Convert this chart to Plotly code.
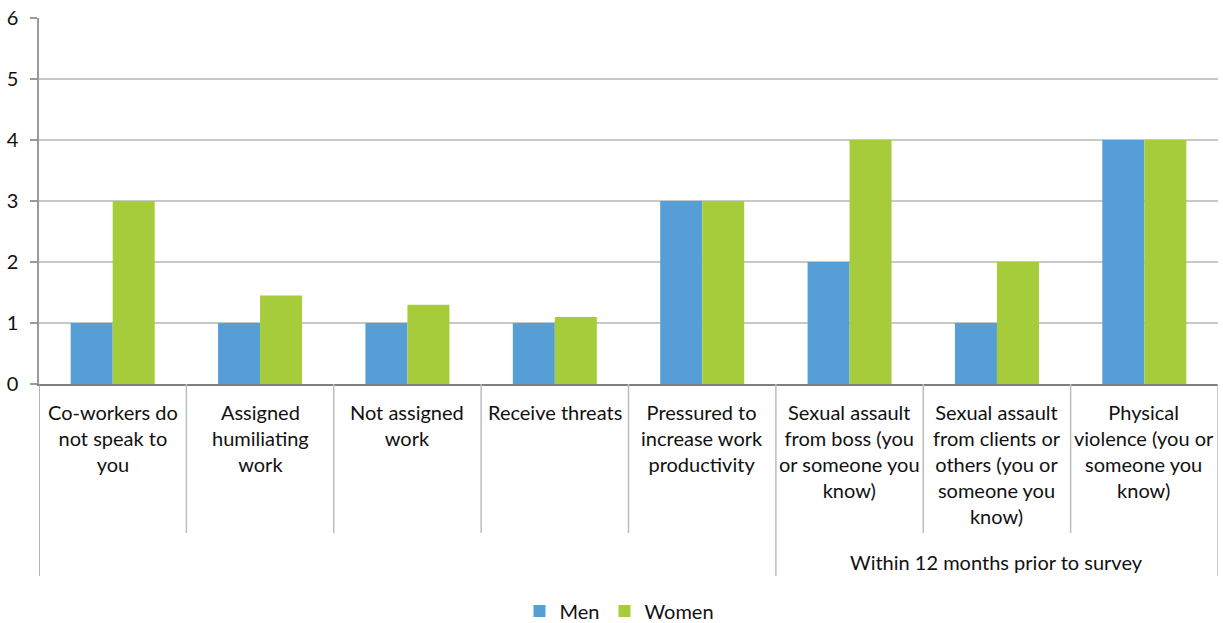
import plotly.graph_objects as go

categories = [
    "Co-workers do<br>not speak to<br>you",
    "Assigned<br>humiliating<br>work",
    "Not assigned<br>work",
    "Receive threats",
    "Pressured to<br>increase work<br>productivity",
    "Sexual assault<br>from boss (you<br>or someone you<br>know)",
    "Sexual assault<br>from clients or<br>others (you or<br>someone you<br>know)",
    "Physical<br>violence (you or<br>someone you<br>know)",
]
men = [1, 1, 1, 1, 3, 2, 1, 4]
women = [3, 1.45, 1.3, 1.1, 3, 4, 2, 4]
group_label = "Within 12 months prior to survey"
group_start = 5  # index of first category in the group
y_ticks = [0, 1, 2, 3, 4, 5, 6]

FONT = "Lato"
FS = 20
BLUE = "#559FD6"
GREEN = "#A6CC3C"
TXT = "#111111"

idx = list(range(len(categories)))

fig = go.Figure()
fig.add_trace(go.Bar(x=idx, y=men, name="Men", marker=dict(color=BLUE, line=dict(width=0))))
fig.add_trace(go.Bar(x=idx, y=women, name="Women", marker=dict(color=GREEN, line=dict(width=0))))

H = 366.0  # plot height in px
W = 1179.0
def py(px_below):
    return -px_below / H

shapes = []
n = len(categories)
for i in range(n + 1):
    xpos = i - 0.5
    full = (i == 0 or i == n or i == group_start)
    shapes.append(dict(type="line", xref="x", yref="paper", x0=xpos, x1=xpos,
                       y0=0, y1=py(192 if full else 149),
                       line=dict(color="#bdbdbd" if i else "#9a9a9a", width=1.5)))

annotations = []
for i, c in enumerate(categories):
    annotations.append(dict(x=i, y=py(14), xref="x", yref="paper", text=c, showarrow=False,
                            xanchor="center", yanchor="top", align="center",
                            font=dict(family=FONT, size=FS, color=TXT)))
annotations.append(dict(x=(group_start - 0.5 + n - 0.5) / 2, y=py(178), xref="x", yref="paper",
                        text=group_label, showarrow=False, xanchor="center", yanchor="middle",
                        font=dict(family=FONT, size=FS, color=TXT)))

fig.update_layout(
    width=1223, height=623,
    margin=dict(l=39, r=5, t=18, b=239, autoexpand=False),
    paper_bgcolor="white", plot_bgcolor="white",
    barmode="group", bargap=0.43, bargroupgap=0,
    font=dict(family=FONT, size=FS, color=TXT),
    showlegend=True,
    legend=dict(orientation="h", x=0.5 - 9 / W, xanchor="center", y=py(227), yanchor="middle",
                font=dict(family=FONT, size=FS, color=TXT), itemwidth=30,
                traceorder="normal"),
    xaxis=dict(range=[-0.5, n - 0.5], showticklabels=False, showgrid=False, zeroline=False,
               showline=True, linecolor="#7f7f7f", linewidth=2, ticks="", automargin=False),
    yaxis=dict(range=[0, 6], tickvals=y_ticks, showgrid=True, gridcolor="#c8c8c8", gridwidth=2,
               zeroline=False, showline=True, linecolor="#9a9a9a", linewidth=1.5,
               ticks="outside", ticklen=7, tickcolor="#9a9a9a", tickwidth=1.5,
               tickfont=dict(family=FONT, size=FS, color=TXT), ticklabelstandoff=8,
               automargin=False),
    shapes=shapes,
    annotations=annotations,
)

fig.write_html("out.html", config={"displayModeBar": False},
               post_script="document.body.style.margin='0';document.body.style.overflow='hidden';")
